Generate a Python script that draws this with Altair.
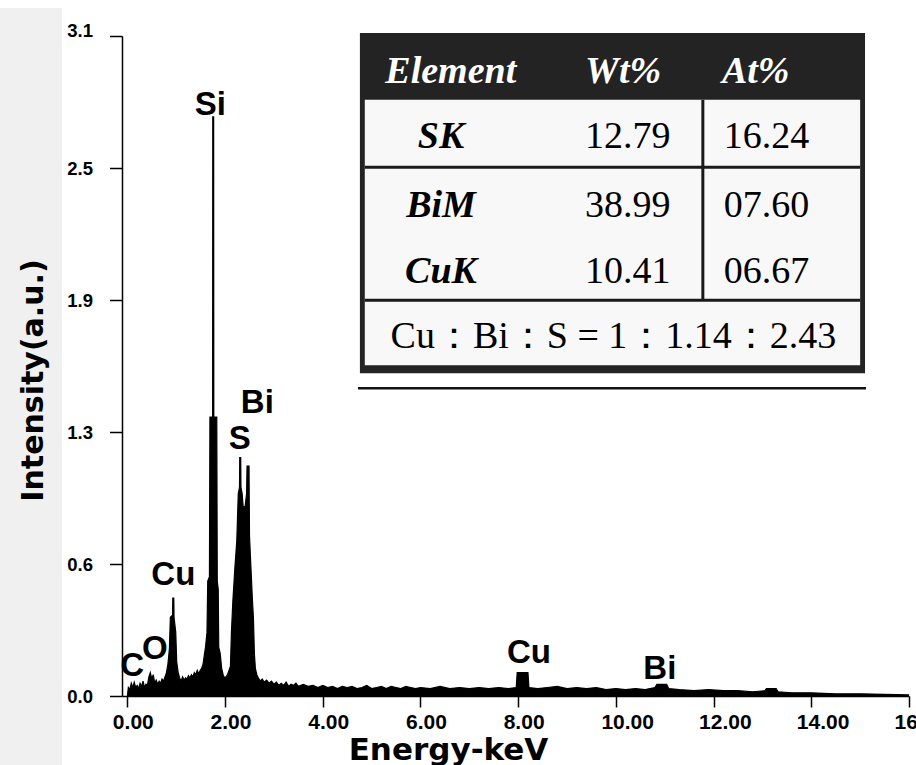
import altair as alt
import pandas as pd

# ---------------- spectrum ----------------
energy_kev = [
    0.00, 0.02, 0.05, 0.08, 0.11, 0.14, 0.17, 0.20, 0.23, 0.26, 0.29, 0.32, 0.35, 0.38,
    0.41, 0.44, 0.47, 0.50, 0.53, 0.56, 0.59, 0.62, 0.65, 0.68, 0.71, 0.74, 0.77, 0.80,
    0.83, 0.86, 0.88, 0.925, 0.93, 0.95, 0.955, 0.99, 1.01, 1.04, 1.07, 1.10, 1.13, 1.16,
    1.19, 1.22, 1.25, 1.28, 1.31, 1.34, 1.37, 1.40, 1.43, 1.46, 1.49, 1.52, 1.55, 1.58,
    1.60, 1.63, 1.645, 1.68, 1.69, 1.745, 1.748, 1.766, 1.769, 1.83, 1.84, 1.86, 1.87,
    1.90, 1.93, 1.96, 1.99, 2.02, 2.05, 2.08, 2.11, 2.13, 2.16, 2.20, 2.24, 2.27, 2.295,
    2.30, 2.32, 2.325, 2.35, 2.37, 2.41, 2.44, 2.45, 2.49, 2.50, 2.53, 2.56, 2.58, 2.60,
    2.62, 2.65, 2.68, 2.72, 2.76, 2.80, 2.85, 2.90, 2.95, 3.00, 3.05, 3.10, 3.15, 3.20,
    3.25, 3.30, 3.35, 3.40, 3.45, 3.50, 3.60, 3.70, 3.80, 3.90, 4.00, 4.10, 4.20, 4.30,
    4.40, 4.50, 4.60, 4.70, 4.80, 4.90, 5.00, 5.10, 5.20, 5.30, 5.40, 5.50, 5.60, 5.70,
    5.80, 5.90, 6.00, 6.20, 6.40, 6.60, 6.80, 7.00, 7.20, 7.40, 7.60, 7.80, 7.96, 7.98,
    8.20, 8.22, 8.40, 8.60, 8.80, 9.00, 9.20, 9.40, 9.60, 9.80, 10.00, 10.20, 10.40,
    10.60, 10.80, 10.84, 11.04, 11.08, 11.30, 11.60, 11.90, 12.20, 12.50, 12.80, 13.05,
    13.08, 13.28, 13.32, 13.60, 14.00, 14.50, 15.00, 15.50, 16.00,
]
intensity_au = [
    0.00, 0.04, 0.03, 0.06, 0.04, 0.065, 0.04, 0.05, 0.035, 0.06, 0.045, 0.07, 0.04, 0.055,
    0.05, 0.09, 0.11, 0.08, 0.10, 0.06, 0.075, 0.055, 0.07, 0.06, 0.08, 0.07, 0.09, 0.11,
    0.15, 0.22, 0.37, 0.38, 0.46, 0.46, 0.37, 0.30, 0.16, 0.11, 0.085, 0.07, 0.09, 0.075,
    0.085, 0.08, 0.095, 0.085, 0.10, 0.09, 0.11, 0.10, 0.12, 0.105, 0.12, 0.13, 0.15, 0.20,
    0.23, 0.30, 0.54, 0.56, 1.31, 1.31, 2.72, 2.72, 1.31, 1.31, 0.54, 0.50, 0.23,
    0.20, 0.13, 0.10, 0.085, 0.09, 0.10, 0.12, 0.14, 0.30, 0.45, 0.60, 0.73, 0.95, 0.98,
    1.12, 1.12, 0.98, 0.95, 0.89, 0.89, 0.95, 1.08, 1.08, 0.75, 0.60, 0.45, 0.37, 0.20,
    0.13, 0.10, 0.085, 0.07, 0.08, 0.065, 0.075, 0.06, 0.07, 0.055, 0.065, 0.05, 0.06, 0.05,
    0.065, 0.045, 0.055, 0.05, 0.06, 0.045, 0.055, 0.045, 0.05, 0.04, 0.05, 0.04, 0.045, 0.035,
    0.045, 0.04, 0.045, 0.035, 0.04, 0.05, 0.035, 0.04, 0.045, 0.035, 0.045, 0.04, 0.035, 0.045,
    0.04, 0.035, 0.04, 0.035, 0.045, 0.035, 0.04, 0.035, 0.04, 0.035, 0.04, 0.035, 0.04, 0.11,
    0.11, 0.04, 0.035, 0.04, 0.045, 0.035, 0.04, 0.035, 0.04, 0.03, 0.035, 0.03, 0.035,
    0.03, 0.04, 0.055, 0.055, 0.035, 0.03, 0.025, 0.03, 0.025, 0.025, 0.02, 0.025,
    0.035, 0.035, 0.02, 0.015, 0.015, 0.01, 0.01, 0.008, 0.005,
]

# peak annotations
peak_labels = ["C", "O", "Cu", "Si", "S", "Bi", "Cu", "Bi"]
peak_label_kev = [0.10, 0.56, 0.94, 1.70, 2.30, 2.66, 8.22, 10.90]
peak_label_int = [0.096, 0.176, 0.52, 2.73, 1.16, 1.33, 0.157, 0.078]

# axis ticks
x_ticks = [0, 2, 4, 6, 8, 10, 12, 14, 16]
y_ticks = [0, 0.62, 1.24, 1.86, 2.48, 3.1]
y_tick_labels = ["0.0", "0.6", "1.3", "1.9", "2.5", "3.1"]

# composition table content
table_header = ["Element", "Wt%", "At%"]
table_elements = ["SK", "BiM", "CuK"]
table_wt = ["12.79", "38.99", "10.41"]
table_at = ["16.24", "07.60", "06.67"]
table_ratio = "Cu：Bi：S = 1：1.14：2.43"

# ---------------- layout (in axis units) ----------------
X_DOMAIN = [-0.11, 16.0]
Y_DOMAIN = [0.0, 3.1]
xs = alt.Scale(domain=X_DOMAIN, nice=False, zero=False)
ys = alt.Scale(domain=Y_DOMAIN, nice=False, zero=False)

T_LEFT, T_RIGHT = 4.76, 15.10
T_IN_LEFT, T_IN_RIGHT = 4.86, 15.00
T_TOP, HDR_BOTTOM, BODY_BOTTOM, T_BOTTOM = 3.114, 2.80, 1.554, 1.516
SEP_ROWS = [2.484, 1.859]
COL_SPLIT = 11.78
UNDERLINE_Y, UNDERLINE_L, UNDERLINE_R = 1.445, 4.72, 15.12
HDR_BASE = 2.879
ROW_BASES = [2.574, 2.249, 1.939]
RATIO_BASE = 1.633
COL_ELEM_HDR, COL_ELEM, COL_WT, COL_AT_HDR, COL_AT, COL_RATIO = 6.62, 6.42, 9.37, 12.17, 12.21, 9.95

spec_df = pd.DataFrame({"E": energy_kev, "I": intensity_au})
ann_df = pd.DataFrame({"t": peak_labels, "E": peak_label_kev, "I": peak_label_int})

label_expr = "[" + ",".join("'%s'" % s for s in y_tick_labels) + "][round(datum.value / 0.62)]"

x_axis = alt.Axis(
    values=x_ticks, format=".2f", grid=False, zindex=2,
    labelFont="Liberation Sans", labelFontWeight="bold", labelFontSize=21, labelColor="black",
    labelAlign="left", labelOffset=-15, labelPadding=4, labelFlush=False, labelOverlap=False,
    tickSize=11, tickWidth=1.5, tickColor="black", domainColor="black", domainWidth=1.5,
    title="Energy-keV", titleFont="DejaVu Sans", titleFontWeight="bold", titleFontSize=31,
    titleColor="black", titleX=326, titleY=63, titleBaseline="alphabetic", titleAlign="center",
)
y_axis = alt.Axis(
    values=y_ticks, labelExpr=label_expr, grid=False, zindex=2,
    labelFont="Liberation Sans", labelFontWeight="bold", labelFontSize=18.5, labelColor="black",
    labelPadding=17, labelOverlap=False,
    labelBaseline={"condition": {"test": "datum.value > 3", "value": "alphabetic"}, "value": "middle"},
    tickSize=12.5, tickWidth=1.5, tickColor="black", domainColor="black", domainWidth=1.5,
    title="Intensity(a.u.)", titleFont="DejaVu Sans", titleFontWeight="bold", titleFontSize=30,
    titleColor="black", titleX=-80, titleY=344, titleAngle=270, titleBaseline="alphabetic",
    titleAlign="center",
)


def X(field):
    return alt.X(field, scale=xs, axis=x_axis)


def Y(field):
    return alt.Y(field, scale=ys, axis=y_axis)


band = alt.Chart(alt.Data(values=[{}])).mark_rect(color="#f0f0f0").encode(
    x=alt.value(-122), x2=alt.value(-60), y=alt.value(-28), y2=alt.value(729)
)

area = alt.Chart(spec_df).mark_area(color="black", interpolate="linear").encode(
    x=X("E:Q"), y=Y("I:Q"),
)
line = alt.Chart(spec_df).mark_line(color="black", strokeWidth=1.2).encode(
    x=X("E:Q"), y=Y("I:Q"),
)
ann = alt.Chart(ann_df).mark_text(
    font="Liberation Sans", fontWeight="bold", fontSize=33, color="black",
    align="center", baseline="alphabetic",
).encode(x=X("E:Q"), y=Y("I:Q"), text="t:N")

# ---- table ----
def rect_layer(rows, color):
    df = pd.DataFrame(rows, columns=["x", "x2", "y", "y2"])
    return alt.Chart(df).mark_rect(color=color).encode(
        x=X("x:Q"), x2="x2:Q", y=Y("y:Q"), y2="y2:Q",
    )

outer = rect_layer([[T_LEFT, T_RIGHT, T_BOTTOM, T_TOP]], "#232323")
body = rect_layer([[T_IN_LEFT, T_IN_RIGHT, BODY_BOTTOM, HDR_BOTTOM]], "#f8f8f8")

hrules = pd.DataFrame({"x": [T_IN_LEFT] * 2, "x2": [T_IN_RIGHT] * 2, "y": SEP_ROWS})
hr = alt.Chart(hrules).mark_rule(color="#1a1a1a", strokeWidth=3).encode(
    x=X("x:Q"), x2="x2:Q", y=Y("y:Q"),
)
vrule = pd.DataFrame({"x": [COL_SPLIT], "y": [HDR_BOTTOM], "y2": [SEP_ROWS[1]]})
vr = alt.Chart(vrule).mark_rule(color="#1a1a1a", strokeWidth=3).encode(
    x=X("x:Q"), y=Y("y:Q"), y2="y2:Q",
)
uline = pd.DataFrame({"x": [UNDERLINE_L], "x2": [UNDERLINE_R], "y": [UNDERLINE_Y]})
ul = alt.Chart(uline).mark_rule(color="#111111", strokeWidth=2.5).encode(
    x=X("x:Q"), x2="x2:Q", y=Y("y:Q"),
)

def text_layer(texts, xpos, ypos, align, style, weight, color, size=38):
    df = pd.DataFrame({"t": texts, "x": xpos, "y": ypos})
    return alt.Chart(df).mark_text(
        font="Liberation Serif", fontStyle=style, fontWeight=weight, fontSize=size,
        color=color, align=align, baseline="alphabetic",
    ).encode(x=X("x:Q"), y=Y("y:Q"), text="t:N")

hdr_elem = text_layer([table_header[0]], [COL_ELEM_HDR], [HDR_BASE], "center", "italic", "bold", "white")
hdr_rest = text_layer(table_header[1:], [COL_WT, COL_AT_HDR], [HDR_BASE] * 2, "left", "italic", "bold", "white")
elems = text_layer(table_elements, [COL_ELEM] * 3, ROW_BASES, "center", "italic", "bold", "black")
wts = text_layer(table_wt, [COL_WT] * 3, ROW_BASES, "left", "normal", "normal", "black")
ats = text_layer(table_at, [COL_AT] * 3, ROW_BASES, "left", "normal", "normal", "black")
ratio = text_layer([table_ratio], [COL_RATIO], [RATIO_BASE], "center", "normal", "normal", "black")

chart = alt.layer(
    band, area, line, ann, outer, body, hr, vr, ul,
    hdr_elem, hdr_rest, elems, wts, ats, ratio,
).properties(
    width=787, height=660,
    padding={"left": 122, "top": 36, "right": 7, "bottom": 69},
    autosize=alt.AutoSizeParams(type="none"),
    background="white",
).configure_view(
    stroke=None
).configure_axisX(
    labelFont="Liberation Sans", labelFontWeight="bold", labelFontSize=21, labelColor="black",
).configure_axisY(
    labelFont="Liberation Sans", labelFontWeight="bold", labelFontSize=18.5, labelColor="black",
)

chart.save("out.html", embed_options={"renderer": "svg", "actions": False})
